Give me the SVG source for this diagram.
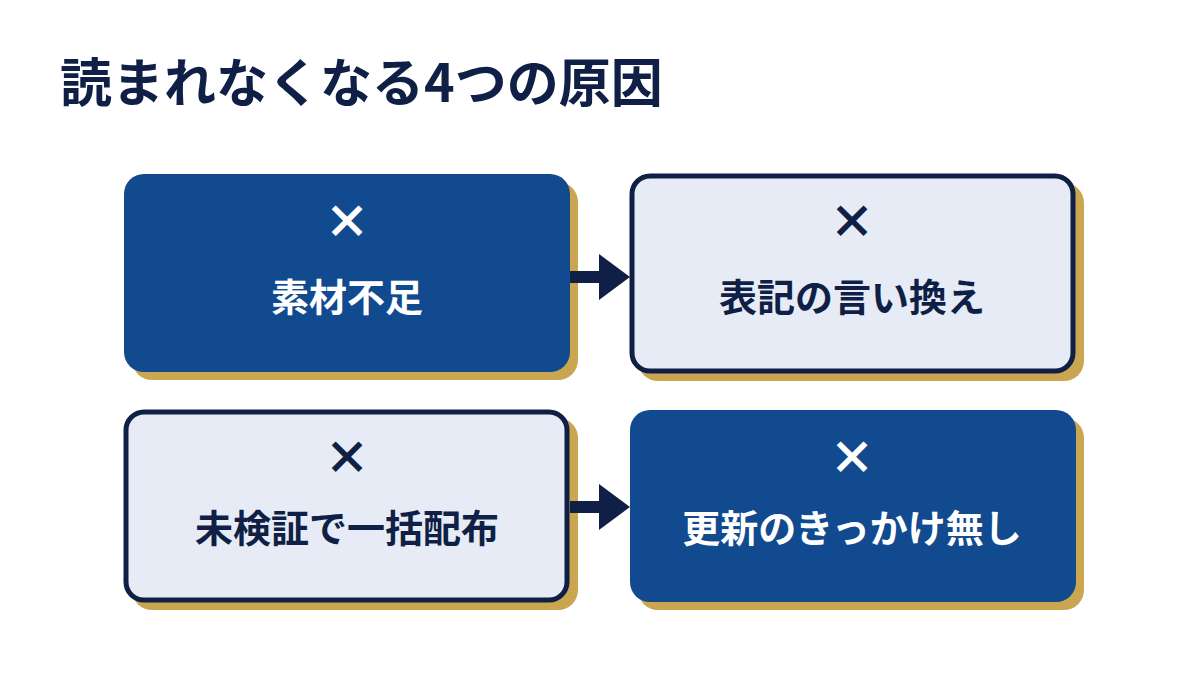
<svg xmlns="http://www.w3.org/2000/svg" width="1200" height="675" viewBox="0 0 1200 675">
<style>
text{font-family:"Noto Sans CJK JP","Noto Sans",sans-serif;font-weight:700;text-anchor:middle}
.sh{fill:#c9a64f}
.dk{fill:#124a8f}
.lt{fill:#e6ebf5;stroke:#0f1f45;stroke-width:5}
.wt{fill:#ffffff}
.nt{fill:#0f1f45}
.x{font-size:46px;font-weight:900}
.lb{font-size:38px}
</style>
<rect width="1200" height="675" fill="#ffffff"/>
<text x="60" y="102" style="text-anchor:start;font-size:52px" class="nt">読まれなくなる4つの原因</text>
<g id="n1"><rect class="sh" x="132" y="182" width="446" height="198" rx="20"/><rect class="dk" x="124" y="174" width="446" height="198" rx="20"/><text class="wt x" x="347" y="238">×</text><text class="wt lb" x="347" y="311">素材不足</text></g>
<g id="n2"><rect class="sh" x="638" y="183" width="446" height="198" rx="20"/><rect class="lt" x="632" y="176" width="441" height="195" rx="18"/><text class="nt x" x="852" y="238">×</text><text class="nt lb" x="852" y="311">表記の言い換え</text></g>
<g id="n3"><rect class="sh" x="132" y="418" width="446" height="192" rx="20"/><rect class="lt" x="126" y="412" width="441" height="188" rx="18"/><text class="nt x" x="347" y="474">×</text><text class="nt lb" x="347" y="542">未検証で一括配布</text></g>
<g id="n4"><rect class="sh" x="638" y="418" width="446" height="192" rx="20"/><rect class="dk" x="630" y="410" width="446" height="192" rx="20"/><text class="wt x" x="852" y="474">×</text><text class="wt lb" x="852" y="542">更新のきっかけ無し</text></g>
<g id="connectors" fill="#0f1f45">
<rect x="570" y="271" width="32" height="12"/><polygon points="599,254 630,277 599,300"/>
<rect x="570" y="501" width="32" height="12"/><polygon points="599,484 630,507 599,530"/>
</g>
</svg>
